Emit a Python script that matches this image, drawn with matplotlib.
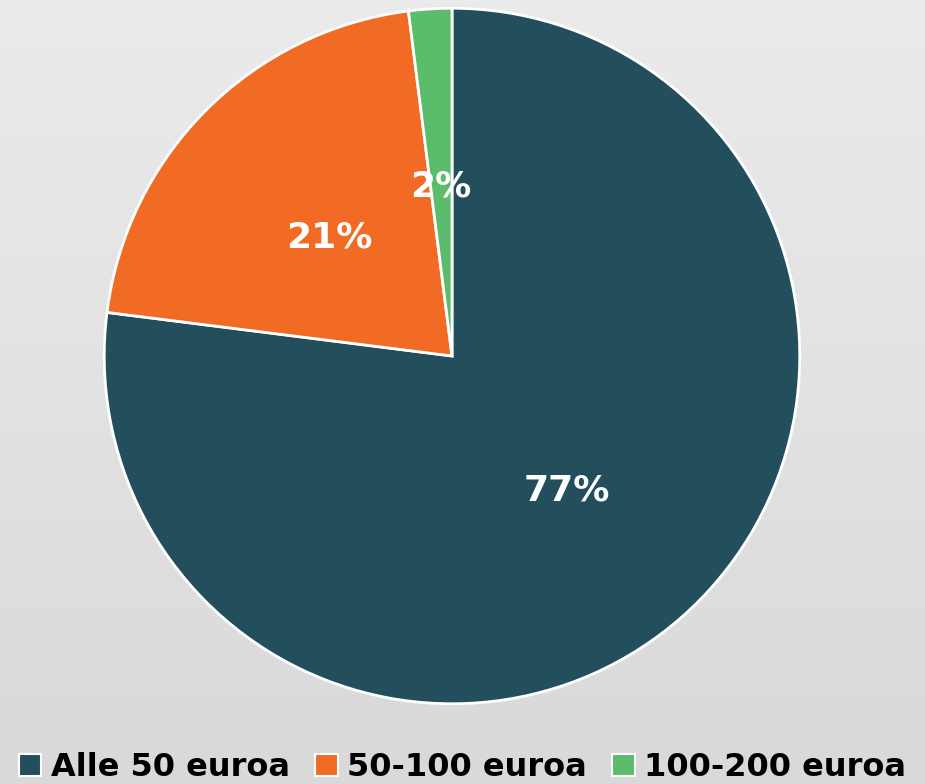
import matplotlib
matplotlib.use("Agg")
import matplotlib.pyplot as plt
import numpy as np
from matplotlib.patches import Patch
from matplotlib.colors import LinearSegmentedColormap

labels = ["Alle 50 euroa", "50-100 euroa", "100-200 euroa"]
values = [77, 21, 2]
colors = ["#234e5c", "#f26b24", "#5bbd6b"]

W, H = 925, 784
fig = plt.figure(figsize=(W / 100, H / 100), dpi=100)

# background gradient
bg = fig.add_axes([0, 0, 1, 1], zorder=-10)
grad = np.linspace(0, 1, 256).reshape(-1, 1)
cmap = LinearSegmentedColormap.from_list("bg", ["#ebebeb", "#d9d9d9"])
bg.imshow(grad, aspect="auto", cmap=cmap, extent=[0, 1, 0, 1], origin="upper")
bg.axis("off")

cx, cy, r = 452, 356, 349.5
ax = fig.add_axes([(cx - r) / W, (H - cy - r) / H, 2 * r / W, 2 * r / H])
wedges, texts, autotexts = ax.pie(
    values, colors=colors, startangle=90, counterclock=False,
    autopct=lambda p: f"{p:.0f}%", pctdistance=0.5,
    wedgeprops=dict(edgecolor="white", linewidth=2),
    textprops=dict(color="white", fontsize=26, fontweight="bold", family="DejaVu Sans"),
)
for t in autotexts:
    x, y = t.get_position()
    t.set_position((x, y - 0.012))
ax.set_xlim(-1.005, 1.005)
ax.set_ylim(-1.005, 1.005)
ax.set_aspect("equal")
ax.axis("off")

handles = [Patch(facecolor=c, edgecolor="white", linewidth=1.5) for c in colors]
leg = fig.legend(handles, labels, loc="lower center", bbox_to_anchor=(0.5, -0.036), ncol=3,
                 frameon=False, handlelength=0.7, handleheight=0.7, handletextpad=0.3,
                 columnspacing=0.8, prop=dict(size=23, weight="bold", family="DejaVu Sans"))

fig.savefig("out.png", dpi=100)
